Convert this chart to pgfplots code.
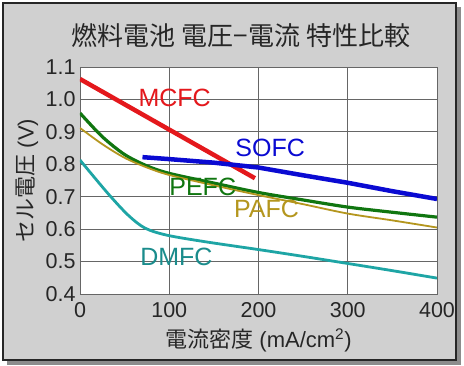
\documentclass[border=0pt]{standalone}
\usepackage{pgfplots}
\pgfplotsset{compat=1.18}
\usepackage{fontspec}
\setmainfont{Liberation Sans}
\newfontfamily\cjk{Noto Sans CJK JP}
\definecolor{cMC}{RGB}{228,24,28}
\definecolor{cSO}{RGB}{10,10,210}
\definecolor{cPE}{RGB}{16,118,16}
\definecolor{cPA}{RGB}{180,150,30}
\definecolor{cDM}{RGB}{30,165,165}
\definecolor{cDMt}{RGB}{26,140,140}
\definecolor{bg}{RGB}{208,208,208}
\begin{document}
\begin{tikzpicture}[x=1pt,y=1pt]
\useasboundingbox (-80,-71) rectangle (384,294);
\fill[white] (-80,-71) rectangle (384,294);
\fill[black!45] (-73,-71) rectangle (381,287);
\fill[bg] (-77,-66) rectangle (376,291);
\draw[line width=1.8pt, black!85] (-77,-66) rectangle (376,291);
\node[font=\cjk\fontsize{26}{26}\selectfont, black!85] at (161,258) {燃料電池 電圧−電流 特性比較};
\begin{axis}[
  at={(0,0)}, anchor=south west,
  scale only axis, width=357pt, height=227pt,
  xmin=0, xmax=400, ymin=0.4, ymax=1.1,
  xtick={0,100,200,300,400},
  ytick={0.4,0.5,0.6,0.7,0.8,0.9,1.0,1.1},
  yticklabel style={/pgf/number format/fixed, /pgf/number format/fixed zerofill, /pgf/number format/precision=1},
  /pgf/number format/assume math mode=true,
  ticklabel style={font=\fontsize{21.5}{21.5}\selectfont, text=black!85},
  xticklabel style={yshift=-5pt},
  yticklabel style={xshift=-1pt},
  tick style={draw=none},
  grid=major,
  major grid style={black!60, line width=0.9pt},
  axis line style={black!60, line width=0.9pt},
  axis background/.style={fill=white},
  xlabel={{\cjk 電流密度} (mA/cm\textsuperscript{2})},
  ylabel={{\cjk セル電圧} (V)},
  label style={font=\fontsize{22}{22}\selectfont, text=black!85},
  xlabel style={at={(rel axis cs:0.5,-0.203)}, anchor=center},
  ylabel style={at={(rel axis cs:-0.148,0.5)}, anchor=center},
  clip=true,
]
\addplot[cMC, line width=4.5pt] coordinates {(0,1.063) (196,0.757)};
\addplot[cSO, line width=4.5pt] coordinates {(70,0.822) (100,0.816) (150,0.805) (200,0.79) (250,0.766) (300,0.743) (350,0.717) (400,0.693)};
\addplot[cPE, line width=3.2pt, smooth] coordinates {(0,0.958) (25,0.885) (50,0.83) (75,0.795) (100,0.772) (150,0.742) (200,0.713) (250,0.69) (300,0.668) (350,0.652) (400,0.637)};
\addplot[cPA, line width=1.8pt, smooth] coordinates {(0,0.912) (25,0.862) (50,0.82) (75,0.79) (100,0.767) (150,0.735) (200,0.705) (250,0.677) (300,0.648) (350,0.627) (400,0.605)};
\addplot[cDM, line width=2.8pt, smooth] coordinates {(0,0.813) (31,0.711) (54,0.643) (73,0.603) (98,0.581) (143,0.560) (200,0.537) (250,0.516) (298,0.495) (350,0.472) (400,0.449)};
\node[text=cMC, font=\fontsize{25}{25}\selectfont] at (axis cs:106,1.006) {MCFC};
\node[text=cSO, font=\fontsize{25}{25}\selectfont] at (axis cs:213,0.85) {SOFC};
\node[text=cPE, font=\fontsize{25}{25}\selectfont] at (axis cs:137.5,0.73) {PEFC};
\node[text=cPA, font=\fontsize{25}{25}\selectfont] at (axis cs:209,0.662) {PAFC};
\node[text=cDMt, font=\fontsize{25}{25}\selectfont] at (axis cs:108,0.514) {DMFC};
\end{axis}
\end{tikzpicture}
\end{document}
